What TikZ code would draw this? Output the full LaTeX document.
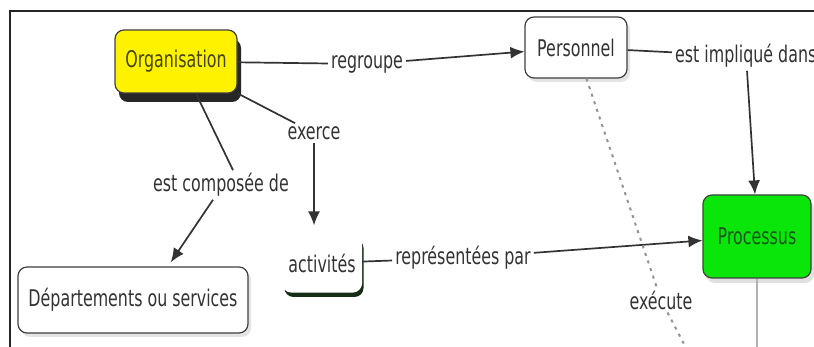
\documentclass[tikz,border=0pt]{standalone}
\usepackage{fontspec}
\setmainfont{DejaVu Sans}[FakeStretch=0.69]
\usetikzlibrary{arrows.meta,shadows}
\definecolor{orgtext}{RGB}{70,70,0}
\definecolor{procfill}{RGB}{10,230,10}
\definecolor{proctext}{RGB}{25,85,25}
\definecolor{actshadow}{RGB}{20,45,20}
\begin{document}
\begin{tikzpicture}[x=1pt,y=-1pt,
  font=\fontsize{23}{25}\selectfont,
  concept/.style={rounded corners=9pt, draw=black!75, line width=1.2pt, inner sep=0pt, text=black!80},
  lbl/.style={inner sep=3pt, text=black!80},
  link/.style={line width=1.7pt, draw=black!80},
  arr/.style={link, -{Latex[length=14pt,width=12pt]}},
  dotline/.style={line width=2pt, draw=gray!85, dash pattern=on 3pt off 5pt},
  softshadow/.style={drop shadow={shadow xshift=3pt, shadow yshift=-4pt, fill=gray!60, opacity=0.35}}
]
\useasboundingbox (0,0) rectangle (814,347);
\clip (0,0) rectangle (814,347);
\fill[white] (0,0) rectangle (814,347);

% frame
\draw[line width=2.2pt, black!85] (10,360) -- (10,11) -- (830,11);

% concepts
\node[concept, fill=yellow, minimum width=122pt, minimum height=63pt,
      drop shadow={shadow xshift=4pt, shadow yshift=-9pt, fill=black!85, opacity=1},
      text=orgtext] (org) at (176,61.5) {Organisation};
\node[concept, fill=white, minimum width=102pt, minimum height=61pt, softshadow] (pers) at (576,47.5) {Personnel};
\node[concept, fill=procfill, minimum width=108pt, minimum height=83pt,
      drop shadow={shadow xshift=3pt, shadow yshift=-5pt, fill=gray!60, opacity=0.4},
      text=proctext] (proc) at (757,236.5) {Processus};
\node[concept, fill=white, draw=white, minimum width=79pt, minimum height=58pt,
      drop shadow={shadow xshift=2pt, shadow yshift=-5pt, fill=actshadow, opacity=1}] (act) at (322,263) {activités};
\node[concept, fill=white, minimum width=230pt, minimum height=66pt, softshadow] (dep) at (133,300) {Départements ou services};

% linking phrases
\node[lbl] (regr) at (367,64) {regroupe};
\node[lbl] (exer) at (314,133) {exerce};
\node[lbl] (comp) at (221,185) {est composée de};
\node[lbl, anchor=west] (impl) at (672,56) {est impliqué dans};
\node[lbl] (repr) at (463,258) {représentées par};
\node[lbl] (exec) at (661,300) {exécute};

% connectors
\draw[link] (org) -- (regr);
\draw[arr] (regr) -- (pers);
\draw[link] (org) -- (exer);
\draw[arr, shorten >=8pt] (exer) -- (exer |- act.north);
\draw[link] ([xshift=20pt]org.south) -- ([xshift=12pt]comp.north);
\draw[arr, shorten >=5pt] ([xshift=-8pt]comp.south) -- ([xshift=35pt]dep.north);
\draw[link] (act) -- (repr);
\draw[arr] (repr) -- (proc);
\draw[link] (pers) -- (impl);
\draw[arr] ([xshift=75pt]impl.south west) -- ([xshift=-2pt]proc.north);
\draw[dotline] (pers) -- (exec);
\coordinate (execend) at (695,365);
\draw[dotline] (exec) -- (execend);
\coordinate (procend) at (757,365);
\draw[line width=2pt, draw=gray!60] (proc) -- (procend);
\end{tikzpicture}
\end{document}
